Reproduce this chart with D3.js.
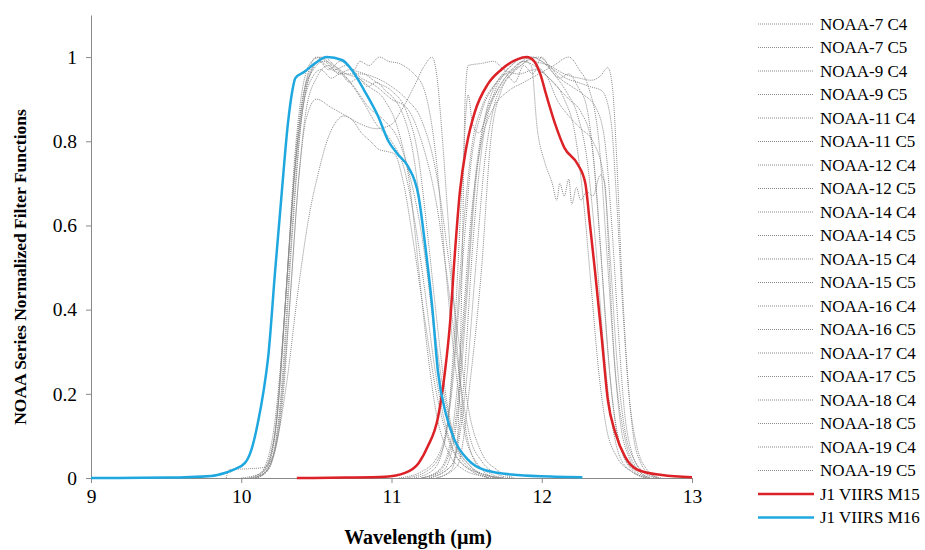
<!DOCTYPE html>
<html lang="en">
<head>
<meta charset="utf-8">
<title>NOAA Series Normalized Filter Functions</title>
<script src="https://d3js.org/d3.v7.min.js"></script>
<style>
    body { margin: 0; background: #fff; }
    svg { display: block; }
    .axis path, .axis line { stroke: #898989; }
</style>
</head>
<body>
<script>
var xTicks = [9, 10, 11, 12, 13];
var yTicks = [0, 0.2, 0.4, 0.6, 0.8, 1];

// channel 4 filters [wavelength um, response]
var n7c4 = [[10.0,0],[10.12,0.01],[10.2,0.08],[10.27,0.3],[10.32,0.55],[10.37,0.78],[10.42,0.92],[10.48,0.98],[10.55,1.0],[10.62,0.98],[10.7,0.96],[10.78,0.95],[10.85,0.93],[10.95,0.9],[11.05,0.82],[11.12,0.7],[11.18,0.5],[11.24,0.3],[11.3,0.15],[11.38,0.06],[11.48,0.02],[11.6,0.005],[11.7,0]];
var n9c4 = [[9.9,0],[9.92,0.02],[10.05,0.022],[10.15,0.025],[10.22,0.06],[10.28,0.2],[10.33,0.45],[10.38,0.7],[10.43,0.87],[10.5,0.95],[10.58,0.98],[10.65,0.96],[10.72,0.97],[10.8,0.95],[10.9,0.93],[11.0,0.9],[11.1,0.88],[11.2,0.8],[11.3,0.65],[11.38,0.45],[11.45,0.25],[11.52,0.1],[11.6,0.04],[11.7,0.01],[11.8,0]];
var n11c4 = [[10.05,0],[10.15,0.01],[10.22,0.06],[10.3,0.22],[10.38,0.45],[10.45,0.62],[10.51,0.72],[10.58,0.81],[10.64,0.85],[10.68,0.86],[10.74,0.85],[10.8,0.82],[10.86,0.8],[10.92,0.78],[10.98,0.775],[11.02,0.77],[11.08,0.7],[11.15,0.55],[11.22,0.38],[11.3,0.2],[11.38,0.09],[11.48,0.03],[11.6,0.01],[11.72,0]];
var n12c4 = [[10.1,0],[10.18,0.02],[10.25,0.12],[10.32,0.4],[10.38,0.7],[10.43,0.85],[10.5,0.9],[10.6,0.88],[10.7,0.86],[10.8,0.84],[10.9,0.83],[11.0,0.84],[11.06,0.87],[11.15,0.93],[11.22,0.98],[11.27,1.0],[11.3,0.96],[11.34,0.8],[11.37,0.65],[11.4,0.49],[11.44,0.3],[11.48,0.15],[11.53,0.06],[11.6,0.02],[11.7,0]];
var n14c4 = [[10.08,0],[10.16,0.02],[10.23,0.12],[10.3,0.45],[10.36,0.75],[10.42,0.92],[10.48,0.97],[10.55,0.99],[10.62,0.97],[10.7,0.98],[10.75,0.97],[10.79,0.99],[10.85,0.98],[10.92,1.0],[10.98,0.99],[11.05,0.985],[11.1,0.975],[11.15,0.96],[11.22,0.92],[11.3,0.75],[11.36,0.5],[11.42,0.28],[11.48,0.12],[11.56,0.04],[11.66,0.01],[11.75,0]];
var n15c4 = [[10.05,0],[10.14,0.015],[10.22,0.1],[10.29,0.4],[10.35,0.7],[10.41,0.88],[10.47,0.95],[10.53,0.97],[10.6,0.95],[10.66,0.96],[10.72,0.94],[10.78,0.95],[10.84,0.93],[10.9,0.94],[10.96,0.92],[11.02,0.9],[11.08,0.86],[11.14,0.78],[11.2,0.62],[11.26,0.42],[11.32,0.24],[11.4,0.1],[11.5,0.03],[11.62,0.008],[11.75,0]];
var n16c4 = [[10.1,0],[10.17,0.02],[10.24,0.15],[10.3,0.45],[10.36,0.78],[10.41,0.93],[10.47,0.99],[10.53,1.0],[10.6,0.98],[10.7,0.95],[10.8,0.9],[10.9,0.84],[11.0,0.8],[11.08,0.74],[11.15,0.62],[11.22,0.45],[11.28,0.28],[11.35,0.14],[11.42,0.06],[11.52,0.02],[11.65,0]];
var n17c4 = [[10.08,0],[10.16,0.02],[10.24,0.15],[10.31,0.5],[10.37,0.8],[10.43,0.94],[10.5,1.0],[10.57,0.99],[10.65,0.97],[10.75,0.93],[10.85,0.88],[10.95,0.85],[11.05,0.8],[11.12,0.72],[11.2,0.58],[11.27,0.4],[11.34,0.22],[11.42,0.09],[11.52,0.03],[11.65,0.005],[11.75,0]];
var n18c4 = [[10.1,0],[10.18,0.02],[10.26,0.18],[10.33,0.55],[10.39,0.82],[10.45,0.95],[10.52,0.99],[10.6,0.97],[10.7,0.96],[10.8,0.96],[10.9,0.95],[11.0,0.93],[11.1,0.9],[11.2,0.85],[11.3,0.72],[11.38,0.52],[11.45,0.32],[11.52,0.15],[11.6,0.06],[11.7,0.02],[11.82,0]];
var n19c4 = [[10.1,0],[10.19,0.03],[10.27,0.2],[10.34,0.58],[10.4,0.85],[10.46,0.96],[10.52,0.99],[10.58,0.97],[10.66,0.99],[10.74,0.97],[10.82,0.96],[10.9,0.94],[11.0,0.92],[11.1,0.87],[11.18,0.76],[11.24,0.58],[11.3,0.38],[11.36,0.2],[11.43,0.08],[11.52,0.03],[11.65,0]];

// channel 5 filters
var n7c5 = [[11.1,0],[11.25,0.02],[11.35,0.08],[11.42,0.3],[11.48,0.6],[11.54,0.8],[11.6,0.88],[11.7,0.94],[11.8,0.97],[11.88,0.99],[11.93,0.98],[11.97,0.83],[12.02,0.75],[12.07,0.7],[12.1,0.66],[12.12,0.7],[12.15,0.67],[12.18,0.71],[12.2,0.65],[12.23,0.69],[12.26,0.66],[12.3,0.68],[12.34,0.67],[12.39,0.72],[12.42,0.7],[12.45,0.5],[12.48,0.3],[12.52,0.14],[12.58,0.05],[12.65,0.015],[12.72,0]];
var n9c5 = [[11.3,0],[11.4,0.02],[11.44,0.1],[11.47,0.5],[11.49,0.9],[11.51,0.98],[11.6,0.985],[11.68,0.99],[11.75,0.97],[11.85,0.96],[11.95,0.97],[12.05,0.95],[12.15,0.9],[12.22,0.82],[12.28,0.65],[12.33,0.45],[12.38,0.25],[12.43,0.12],[12.5,0.05],[12.6,0.015],[12.7,0]];
var n11c5 = [[11.15,0],[11.28,0.02],[11.36,0.1],[11.42,0.35],[11.47,0.7],[11.51,0.91],[11.54,0.84],[11.58,0.82],[11.65,0.88],[11.72,0.93],[11.8,0.97],[11.88,0.99],[11.95,0.98],[12.02,0.96],[12.1,0.93],[12.18,0.9],[12.26,0.87],[12.33,0.8],[12.39,0.55],[12.44,0.3],[12.49,0.13],[12.55,0.05],[12.63,0.015],[12.72,0]];
var n12c5 = [[11.2,0],[11.32,0.02],[11.4,0.1],[11.47,0.35],[11.53,0.62],[11.6,0.8],[11.68,0.88],[11.78,0.92],[11.88,0.94],[11.98,0.96],[12.08,0.98],[12.18,1.0],[12.25,0.97],[12.31,0.93],[12.38,0.8],[12.44,0.5],[12.49,0.25],[12.55,0.1],[12.62,0.03],[12.72,0]];
var n14c5 = [[11.2,0],[11.33,0.02],[11.42,0.12],[11.5,0.45],[11.56,0.72],[11.63,0.87],[11.72,0.95],[11.8,0.98],[11.87,1.0],[11.95,0.99],[12.05,0.98],[12.15,0.96],[12.25,0.95],[12.33,0.945],[12.39,0.955],[12.44,0.975],[12.47,0.93],[12.5,0.75],[12.53,0.5],[12.57,0.25],[12.61,0.1],[12.66,0.035],[12.72,0.01],[12.8,0]];
var n15c5 = [[11.2,0],[11.35,0.02],[11.44,0.15],[11.5,0.42],[11.56,0.7],[11.62,0.85],[11.7,0.92],[11.78,0.96],[11.86,0.98],[11.94,1.0],[12.0,0.99],[12.08,0.96],[12.16,0.92],[12.24,0.86],[12.3,0.76],[12.36,0.55],[12.41,0.32],[12.46,0.15],[12.52,0.05],[12.6,0.015],[12.7,0]];
var n16c5 = [[11.25,0],[11.4,0.03],[11.49,0.2],[11.56,0.5],[11.62,0.75],[11.68,0.88],[11.75,0.94],[11.83,0.97],[11.9,0.99],[11.98,1.0],[12.05,0.98],[12.12,0.95],[12.2,0.93],[12.28,0.91],[12.36,0.88],[12.42,0.8],[12.47,0.58],[12.51,0.35],[12.55,0.16],[12.6,0.06],[12.67,0.015],[12.76,0]];
var n17c5 = [[11.05,0],[11.2,0.015],[11.32,0.06],[11.4,0.2],[11.47,0.5],[11.53,0.75],[11.6,0.87],[11.68,0.93],[11.76,0.96],[11.82,0.94],[11.88,0.98],[11.94,0.96],[12.0,1.0],[12.06,0.97],[12.12,0.95],[12.18,0.96],[12.24,0.93],[12.3,0.88],[12.36,0.7],[12.41,0.45],[12.46,0.22],[12.52,0.08],[12.6,0.02],[12.7,0]];
var n18c5 = [[11.25,0],[11.4,0.03],[11.48,0.22],[11.54,0.55],[11.6,0.78],[11.67,0.9],[11.75,0.96],[11.83,0.99],[11.9,1.0],[11.97,0.98],[12.04,0.95],[12.1,0.9],[12.18,0.86],[12.26,0.83],[12.34,0.8],[12.41,0.72],[12.46,0.5],[12.5,0.28],[12.55,0.12],[12.62,0.04],[12.7,0.01],[12.78,0]];
var n19c5 = [[11.3,0],[11.44,0.03],[11.53,0.25],[11.6,0.5],[11.66,0.8],[11.73,0.92],[11.8,0.96],[11.87,0.99],[11.93,1.0],[12.0,0.99],[12.08,0.97],[12.16,0.95],[12.24,0.94],[12.32,0.93],[12.4,0.92],[12.46,0.85],[12.5,0.65],[12.54,0.4],[12.58,0.2],[12.63,0.08],[12.7,0.02],[12.78,0]];

// J1 VIIRS bands
var m15 = [[10.37,0],[10.7,0.001],[10.96,0.003],[11.09,0.012],[11.18,0.035],[11.24,0.074],[11.31,0.145],[11.355,0.25],[11.39,0.37],[11.42,0.525],[11.455,0.68],[11.5,0.79],[11.555,0.87],[11.64,0.935],[11.73,0.97],[11.84,0.995],[11.9,1.0],[11.95,0.99],[11.99,0.96],[12.03,0.91],[12.09,0.84],[12.15,0.785],[12.24,0.745],[12.29,0.7],[12.32,0.605],[12.355,0.49],[12.4,0.33],[12.44,0.185],[12.49,0.107],[12.555,0.05],[12.64,0.019],[12.8,0.007],[13.0,0.002]];
var m16 = [[9.0,0],[9.5,0.001],[9.8,0.005],[9.89,0.012],[9.95,0.02],[10.025,0.036],[10.07,0.07],[10.11,0.13],[10.15,0.21],[10.18,0.29],[10.225,0.49],[10.27,0.68],[10.31,0.84],[10.34,0.92],[10.36,0.95],[10.42,0.965],[10.49,0.985],[10.57,1.0],[10.67,0.993],[10.735,0.97],[10.82,0.92],[10.91,0.86],[10.98,0.8],[11.04,0.77],[11.11,0.74],[11.18,0.67],[11.22,0.565],[11.27,0.41],[11.31,0.25],[11.36,0.155],[11.42,0.09],[11.51,0.043],[11.62,0.019],[11.84,0.007],[12.09,0.003],[12.27,0.002]];

var noaaNames = ["NOAA-7 C4", "NOAA-7 C5", "NOAA-9 C4", "NOAA-9 C5", "NOAA-11 C4", "NOAA-11 C5",
    "NOAA-12 C4", "NOAA-12 C5", "NOAA-14 C4", "NOAA-14 C5", "NOAA-15 C4", "NOAA-15 C5",
    "NOAA-16 C4", "NOAA-16 C5", "NOAA-17 C4", "NOAA-17 C5", "NOAA-18 C4", "NOAA-18 C5",
    "NOAA-19 C4", "NOAA-19 C5"];
var noaaData = [n7c4, n7c5, n9c4, n9c5, n11c4, n11c5, n12c4, n12c5, n14c4, n14c5,
    n15c4, n15c5, n16c4, n16c5, n17c4, n17c5, n18c4, n18c5, n19c4, n19c5];
var viirsNames = ["J1 VIIRS M15", "J1 VIIRS M16"];
var viirsData = [m15, m16];

var width = 925, height = 550;
var red = "#dc2127", blue = "#1fa8df", grey = "#8a8a8a";
var serif = "'Liberation Serif', 'Times New Roman', 'DejaVu Serif', serif";

var svg = d3.select("body").append("svg")
    .attr("width", width)
    .attr("height", height)
    .style("font-family", serif);

var x = d3.scaleLinear().domain([9, 13]).range([91, 692]);
var y = d3.scaleLinear().domain([0, 1.1]).range([478, 15]);

var xAxis = svg.append("g")
    .attr("class", "axis")
    .attr("transform", "translate(0,478)")
    .call(d3.axisBottom(x).tickValues(xTicks).tickSize(5).tickSizeOuter(0).tickPadding(6).tickFormat(d3.format("")));

var yAxis = svg.append("g")
    .attr("class", "axis")
    .attr("transform", "translate(91,0)")
    .call(d3.axisLeft(y).tickValues(yTicks).tickSize(5).tickSizeOuter(0).tickPadding(9).tickFormat(d3.format("")));

svg.selectAll(".axis").attr("font-family", null).attr("font-size", null);
svg.selectAll(".axis text")
    .style("font-family", serif)
    .style("font-size", "19.5px")
    .attr("fill", "#000");

var line = d3.line()
    .x(function (d) { return x(d[0]); })
    .y(function (d) { return y(d[1]); })
    .curve(d3.curveMonotoneX);

svg.append("g").selectAll("path")
    .data(noaaData)
    .enter().append("path")
    .attr("d", line)
    .attr("fill", "none")
    .attr("stroke", grey)
    .attr("stroke-width", 1)
    .attr("stroke-dasharray", "1,1");

svg.append("g").selectAll("path")
    .data(viirsData)
    .enter().append("path")
    .attr("d", line)
    .attr("fill", "none")
    .attr("stroke", function (d, i) { return i == 0 ? red : blue; })
    .attr("stroke-width", 2.5)
    .attr("stroke-linejoin", "round");

// axis titles
svg.append("text")
    .attr("transform", "translate(26,267) rotate(-90)")
    .attr("text-anchor", "middle")
    .style("font-family", serif)
    .style("font-size", "17.5px")
    .style("font-weight", "bold")
    .text("NOAA Series Normalized Filter Functions");

svg.append("text")
    .attr("x", 418)
    .attr("y", 544)
    .attr("text-anchor", "middle")
    .style("font-family", serif)
    .style("font-size", "20px")
    .style("font-weight", "bold")
    .text("Wavelength (\u00b5m)");

// legend
var allNames = noaaNames.concat(viirsNames);
var legend = svg.append("g").selectAll("g")
    .data(allNames)
    .enter().append("g")
    .attr("transform", function (d, i) { return "translate(0," + (24 + i * 23.5) + ")"; });

legend.append("line")
    .attr("x1", 758).attr("x2", 814)
    .attr("stroke", function (d, i) { return i < 20 ? grey : (i == 20 ? red : blue); })
    .attr("stroke-width", function (d, i) { return i < 20 ? 1 : 2.5; })
    .attr("stroke-dasharray", function (d, i) { return i < 20 ? "1,1" : null; });

legend.append("text")
    .attr("x", 820)
    .attr("dy", "0.35em")
    .style("font-family", serif)
    .style("font-size", "17px")
    .text(function (d) { return d; });
</script>
</body>
</html>
